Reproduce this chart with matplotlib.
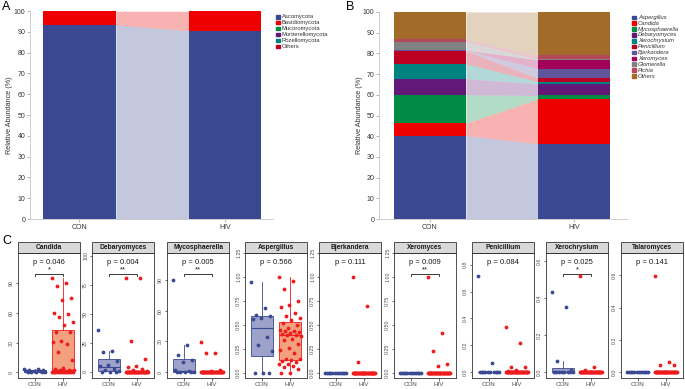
import numpy as np
import matplotlib.pyplot as plt
from matplotlib.patches import Rectangle
from matplotlib.ticker import FormatStrFormatter

plt.rcParams['font.family'] = ['Liberation Sans', 'DejaVu Sans']

W, H = 685, 389

groups = ['CON', 'HIV']

# A: relative abundance at phylum level (%)
phyla = ['Ascomycota', 'Basidiomycota', 'Mucoromycota', 'Mortierellomycota', 'Rozellomycota', 'Others']
phyla_colors = ['#3B4992', '#EE0000', '#008B45', '#631879', '#008280', '#BB0021']
phyla_con = [93.3, 6.6, 0.03, 0.03, 0.02, 0.02]
phyla_hiv = [90.5, 9.4, 0.03, 0.03, 0.02, 0.02]

# B: relative abundance at genus level (%)
genera = ['Aspergillus', 'Candida', 'Mycosphaerella', 'Debaryomyces', 'Xerochrysium', 'Penicillium',
          'Bjerkandera', 'Xeromyces', 'Glomerella', 'Pichia', 'Others']
genus_colors = ['#3B4992', '#EE0000', '#008B45', '#631879', '#008280', '#BB0021',
                '#5F559B', '#A20056', '#808180', '#B5475A', '#A26B29']
genus_con = [40.3, 6.0, 13.7, 7.8, 7.2, 6.3, 0.2, 0.1, 4.0, 1.3, 13.1]
genus_hiv = [36.3, 21.7, 1.7, 5.6, 1.0, 1.7, 4.6, 4.3, 0.2, 1.9, 21.0]

# C: per-sample abundance of selected genera
candida_con = [3.5, 2.8, 2.2, 1.8, 1.5, 1.2, 0.8, 0.5, 0.3, 0, 0, 0]
candida_hiv = [95, 89.7, 86.7, 74.8, 73.4, 60, 59, 55.8, 50.8, 48.2, 40.9, 40.2, 31.9, 30.2,
               28.2, 20, 12.6, 4.3, 3.7, 2.7, 2.0, 1.8, 1.5, 1.3, 1.0, 0.9, 0.7, 0.5, 0.4, 0.3,
               0.2, 0.1] + [0] * 8
debaryomyces_con = [36, 18.4, 17.5, 9.2, 5.7, 4.9, 2.9, 1.4, 0.6, 0, 0, 0]
debaryomyces_hiv = [81, 80.6, 26.2, 11.3, 5, 4.2, 2.8, 1.5, 1] + [0] * 31
mycosphaerella_con = [90, 26.6, 17.2, 11.6, 10, 1.6, 0.6, 0, 0, 0, 0, 0]
mycosphaerella_hiv = [29.3, 18.6, 18.3, 2, 1] + [0] * 35
aspergillus_con = [0.948, 0.672, 0.603, 0.593, 0.569, 0.559, 0.372, 0.293, 0.231, 0, 0, 0]
aspergillus_hiv = [1.0, 0.96, 0.88, 0.75, 0.707, 0.683, 0.62, 0.593, 0.569, 0.552, 0.524, 0.5,
                   0.47, 0.448, 0.44, 0.431, 0.42, 0.414, 0.403, 0.397, 0.39, 0.38, 0.352, 0.345,
                   0.303, 0.259, 0.241, 0.2, 0.145, 0.138, 0.13, 0.12, 0.11, 0.09, 0.086, 0.069,
                   0.06, 0.034, 0, 0]
bjerkandera_con = [0] * 12
bjerkandera_hiv = [1.0, 0.697, 0.11] + [0] * 37
xeromyces_con = [0] * 12
xeromyces_hiv = [1.0, 0.414, 0.231, 0.086, 0.069] + [0] * 35
penicillium_con = [0.716, 0.067] + [0] * 10
penicillium_hiv = [0.338, 0.22, 0.037, 0.037, 0.017, 0.012] + [0] * 34
xerochrysium_con = [0.436, 0.355, 0.063, 0.013, 0.004] + [0] * 7
xerochrysium_hiv = [0.52, 0.031, 0.013] + [0] * 37
talaromyces_con = [0] * 12
talaromyces_hiv = [0.595, 0.066, 0.045, 0.045] + [0] * 36

facets = ['Candida', 'Debaryomyces', 'Mycosphaerella', 'Aspergillus', 'Bjerkandera',
          'Xeromyces', 'Penicillium', 'Xerochrysium', 'Talaromyces']
con_values = [candida_con, debaryomyces_con, mycosphaerella_con, aspergillus_con, bjerkandera_con,
              xeromyces_con, penicillium_con, xerochrysium_con, talaromyces_con]
hiv_values = [candida_hiv, debaryomyces_hiv, mycosphaerella_hiv, aspergillus_hiv, bjerkandera_hiv,
              xeromyces_hiv, penicillium_hiv, xerochrysium_hiv, talaromyces_hiv]
p_values = ['0.046', '0.004', '0.005', '0.566', '0.111', '0.009', '0.084', '0.025', '0.141']
stars = ['*', '**', '**', '', '', '**', '', '*', '']
y_ticks = [[0, 30, 60, 90], [0, 25, 50, 75, 100], [0, 30, 60, 90],
           [0, 0.25, 0.5, 0.75, 1.0, 1.25], [0, 0.25, 0.5, 0.75, 1.0, 1.25],
           [0, 0.25, 0.5, 0.75, 1.0, 1.25], [0, 0.2, 0.4, 0.6, 0.8], [0, 0.2, 0.4, 0.6],
           [0, 0.2, 0.4, 0.6]]
y_limits = [(-5.8, 120.5), (-5.2, 102.3), (-5.8, 116.7), (-0.057, 1.253), (-0.057, 1.253),
            (-0.057, 1.253), (-0.042, 0.886), (-0.031, 0.645), (-0.035, 0.739)]
y_formats = ['%d', '%d', '%d', '%.2f', '%.2f', '%.2f', '%.1f', '%.1f', '%.1f']


def px(l, t, r, b):
    return [l / W, 1 - b / H, (r - l) / W, (b - t) / H]


fig = plt.figure(figsize=(W / 100, H / 100), dpi=100)


def stacked(ax, con, hiv, colors, xlim):
    con = np.array(con)
    hiv = np.array(hiv)
    con_top, hiv_top = np.cumsum(con), np.cumsum(hiv)
    con_bot, hiv_bot = con_top - con, hiv_top - hiv
    for i, c in enumerate(colors):
        ax.bar([0, 1], [con[i], hiv[i]], bottom=[con_bot[i], hiv_bot[i]], width=0.5, color=c, lw=0)
        ax.fill_between([0.25, 0.75], [con_bot[i], hiv_bot[i]], [con_top[i], hiv_top[i]],
                        color=c, alpha=0.3, lw=0)
    ax.set_xlim(*xlim)
    ax.set_ylim(0, 100)
    ax.set_yticks(range(0, 101, 10))
    ax.set_xticks([0, 1], groups)
    for s in ['top', 'right']:
        ax.spines[s].set_visible(False)
    for s in ['left', 'bottom']:
        ax.spines[s].set_color('#C8C8C8')
        ax.spines[s].set_linewidth(0.6)
    ax.tick_params(length=2, width=0.5, color='#999999', labelsize=5, labelcolor='#333333', pad=1.5)
    ax.set_ylabel('Relative Abundance (%)', fontsize=5.2, color='#333333')


def legend(x, y0, step, names, colors, italic):
    for i, (n, c) in enumerate(zip(names, colors)):
        y = y0 + i * step
        fig.patches.append(Rectangle((x / W, 1 - (y + 1.8) / H), 3.6 / W, 3.6 / H,
                                     transform=fig.transFigure, color=c))
        fig.text((x + 6) / W, 1 - y / H, n, fontsize=4.2, va='center', color='#333333',
                 style='italic' if italic else 'normal')


# panel A
axA = fig.add_axes(px(30, 11, 273, 219))
stacked(axA, phyla_con, phyla_hiv, phyla_colors, (-0.34, 1.33))
axA.yaxis.set_label_coords(-0.068, 0.5)
legend(276, 16.7, 5.92, phyla, phyla_colors, False)

# panel B
axB = fig.add_axes(px(379, 12, 627, 219))
stacked(axB, genus_con, genus_hiv, genus_colors, (-0.354, 1.368))
axB.yaxis.set_label_coords(-0.065, 0.5)
legend(632, 17.3, 5.87, genera, genus_colors, True)

fig.text(2 / W, 1 - 7 / H, 'A', fontsize=9, va='center')
fig.text(346 / W, 1 - 7 / H, 'B', fontsize=9, va='center')
fig.text(2 / W, 1 - 241 / H, 'C', fontsize=9, va='center')

# panel C
lefts = [18, 92, 167, 245, 319, 394, 472, 546, 621]
pw = 62
top, bottom, strip_h = 253, 378, 11
off = ((np.arange(60) * 0.618034) % 1 - 0.5) * 0.8

for k, name in enumerate(facets):
    ax = fig.add_axes(px(lefts[k], top, lefts[k] + pw, bottom))
    con, hiv = con_values[k], hiv_values[k]
    bp = ax.boxplot([con, hiv], positions=[1, 2], widths=0.8, showfliers=False, showcaps=False,
                    patch_artist=True, whis=1.5)
    for j, (face, edge) in enumerate([('#9DA2CB', '#3B4992'), ('#F2A07E', '#EE1C1C')]):
        bp['boxes'][j].set(facecolor=face, edgecolor=edge, linewidth=0.6)
        bp['medians'][j].set(color=edge, linewidth=0.8)
        for w in bp['whiskers'][2 * j:2 * j + 2]:
            w.set(color=edge, linewidth=0.6)
    ax.scatter(1 + off[:len(con)], con, s=7.5, color='#3B4992', lw=0, zorder=3)
    ax.scatter(2 + off[:len(hiv)], hiv, s=7.5, color='#EE1C1C', lw=0, zorder=3)

    ax.set_xlim(0.4, 2.6)
    ax.set_ylim(*y_limits[k])
    ax.set_yticks(y_ticks[k])
    ax.yaxis.set_major_formatter(FormatStrFormatter(y_formats[k]))
    ax.set_xticks([1, 2], groups)
    ax.tick_params(length=1.8, width=0.5, color='#333333', labelcolor='#4D4D4D', pad=1)
    ax.tick_params(axis='y', labelsize=3.8)
    ax.tick_params(axis='x', labelsize=4.5)
    for lab in ax.get_yticklabels():
        lab.set_rotation(90)
        lab.set_va('center')
    for s in ax.spines.values():
        s.set_color('#333333')
        s.set_linewidth(0.6)

    # facet strip
    ax.add_patch(Rectangle((0, 1), 1, strip_h / (bottom - top), transform=ax.transAxes,
                           clip_on=False, facecolor='#D9D9D9', edgecolor='#333333', lw=0.6))
    ax.text(0.5, 1 + strip_h / (bottom - top) / 2, name, transform=ax.transAxes, ha='center',
            va='center', fontsize=4.8, fontweight='bold', color='#1A1A1A')

    ax.text(0.5, 0.925, 'p = ' + p_values[k], transform=ax.transAxes, ha='center', va='center',
            fontsize=5.5, color='#1A1A1A')
    if stars[k]:
        tr = ax.get_xaxis_transform()
        ax.plot([1, 1, 2, 2], [0.82, 0.835, 0.835, 0.82], color='#1A1A1A', lw=0.6, transform=tr)
        ax.text(1.5, 0.84, stars[k], transform=tr, ha='center', va='bottom', fontsize=5.5,
                color='#1A1A1A')

fig.savefig('out.png', dpi=100)
